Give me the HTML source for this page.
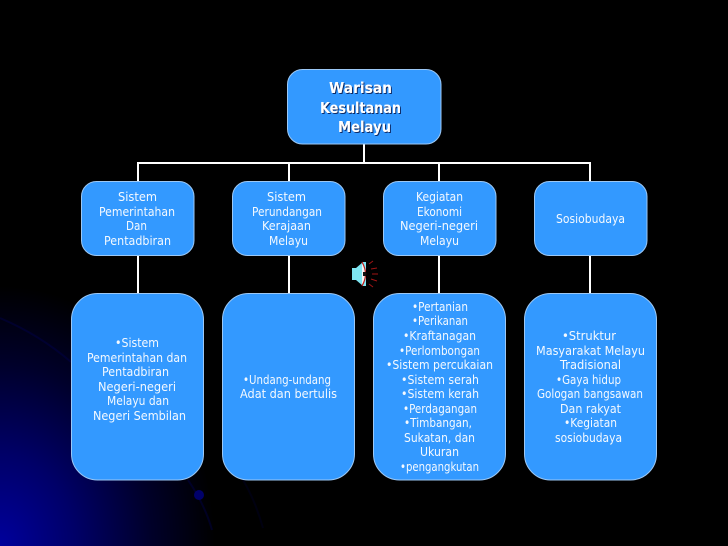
<!DOCTYPE html>
<html><head><meta charset="utf-8"><style>
html,body{margin:0;padding:0;background:#000;width:728px;height:546px;overflow:hidden}
svg{display:block}
text{font-family:"DejaVu Sans","Liberation Sans",sans-serif;font-size:12px;fill:#f4f9ff;text-anchor:start}
.t{font-weight:bold;font-size:15.5px;fill:#fff;filter:url(#sh)}
</style></head><body>
<svg width="728" height="546" viewBox="0 0 728 546" xmlns="http://www.w3.org/2000/svg">
<defs>
<radialGradient id="bg" gradientUnits="userSpaceOnUse" cx="0" cy="546" r="1" gradientTransform="translate(0 546) scale(215 260) translate(0 -546)">
<stop offset="0" stop-color="#00009c"/><stop offset=".35" stop-color="#000068"/><stop offset=".7" stop-color="#00002a"/><stop offset="1" stop-color="#000"/>
</radialGradient>
<filter id="sh" x="-10%" y="-20%" width="130%" height="150%"><feDropShadow dx="1" dy="1" stdDeviation=".3" flood-color="#0a2a66"/></filter>
</defs>
<rect width="728" height="546" fill="#000"/>
<rect width="728" height="546" fill="url(#bg)"/>
<g fill="none" stroke="#00005c" stroke-width="2" opacity=".35">
<path d="M0 318 Q40 335 71 362"/><path d="M188 480 Q205 505 212 530"/>
<path d="M243 480 Q255 500 263 528" stroke="#00002e"/>
</g>
<circle cx="199" cy="495" r="5" fill="#00006a"/>

<g fill="#fff">
<rect x="363" y="144" width="2" height="20"/>
<rect x="137" y="162" width="454" height="2"/>
<rect x="137" y="162" width="2" height="131"/>
<rect x="288" y="162" width="2" height="131"/>
<rect x="438" y="162" width="2" height="131"/>
<rect x="589" y="162" width="2" height="131"/>
</g>

<g fill="#3399ff" stroke="#9cc8f5" stroke-width="1">
<rect x="287.5" y="69.5" width="153.500" height="74.500" rx="15"/>
<rect x="81.500" y="181.500" width="112.500" height="74" rx="15"/>
<rect x="232.500" y="181.500" width="112.500" height="74" rx="15"/>
<rect x="383.500" y="181.500" width="112.500" height="74" rx="15"/>
<rect x="534.500" y="181.500" width="112.500" height="74" rx="15"/>
<rect x="71.500" y="293.500" width="132" height="186.500" rx="26"/>
<rect x="222.500" y="293.500" width="132" height="186.500" rx="26"/>
<rect x="373.500" y="293.500" width="132" height="186.500" rx="26"/>
<rect x="524.500" y="293.500" width="132" height="186.500" rx="26"/>
</g>

<g>
<text class="t" x="329" y="93" textLength="63" lengthAdjust="spacingAndGlyphs">Warisan</text>
<text class="t" x="320" y="113" textLength="81" lengthAdjust="spacingAndGlyphs">Kesultanan</text>
<text class="t" x="338" y="132" textLength="53" lengthAdjust="spacingAndGlyphs">Melayu</text>

<text x="118" y="201" textLength="39" lengthAdjust="spacingAndGlyphs">Sistem</text>
<text x="99" y="216" textLength="76" lengthAdjust="spacingAndGlyphs">Pemerintahan</text>
<text x="126" y="230" textLength="21" lengthAdjust="spacingAndGlyphs">Dan</text>
<text x="104" y="245" textLength="67" lengthAdjust="spacingAndGlyphs">Pentadbiran</text>

<text x="267" y="201" textLength="39" lengthAdjust="spacingAndGlyphs">Sistem</text>
<text x="252" y="216" textLength="70" lengthAdjust="spacingAndGlyphs">Perundangan</text>
<text x="262" y="230" textLength="49" lengthAdjust="spacingAndGlyphs">Kerajaan</text>
<text x="269" y="245" textLength="39" lengthAdjust="spacingAndGlyphs">Melayu</text>

<text x="416" y="201" textLength="47" lengthAdjust="spacingAndGlyphs">Kegiatan</text>
<text x="417" y="216" textLength="45" lengthAdjust="spacingAndGlyphs">Ekonomi</text>
<text x="400" y="230" textLength="78" lengthAdjust="spacingAndGlyphs">Negeri-negeri</text>
<text x="420" y="245" textLength="39" lengthAdjust="spacingAndGlyphs">Melayu</text>

<text x="556" y="223" textLength="69" lengthAdjust="spacingAndGlyphs">Sosiobudaya</text>

<text x="115" y="347" textLength="44" lengthAdjust="spacingAndGlyphs">•Sistem</text>
<text x="87" y="362" textLength="100" lengthAdjust="spacingAndGlyphs">Pemerintahan dan</text>
<text x="102" y="376" textLength="67" lengthAdjust="spacingAndGlyphs">Pentadbiran</text>
<text x="98" y="391" textLength="78" lengthAdjust="spacingAndGlyphs">Negeri-negeri</text>
<text x="107" y="405" textLength="62" lengthAdjust="spacingAndGlyphs">Melayu dan</text>
<text x="93" y="420" textLength="93" lengthAdjust="spacingAndGlyphs">Negeri Sembilan</text>

<text x="243" y="384" textLength="88" lengthAdjust="spacingAndGlyphs">•Undang-undang</text>
<text x="240" y="398" textLength="97" lengthAdjust="spacingAndGlyphs">Adat dan bertulis</text>

<text x="412" y="311" textLength="56" lengthAdjust="spacingAndGlyphs">•Pertanian</text>
<text x="412" y="325" textLength="56" lengthAdjust="spacingAndGlyphs">•Perikanan</text>
<text x="403" y="340" textLength="73" lengthAdjust="spacingAndGlyphs">•Kraftanagan</text>
<text x="399" y="355" textLength="81" lengthAdjust="spacingAndGlyphs">•Perlombongan</text>
<text x="386" y="369" textLength="107" lengthAdjust="spacingAndGlyphs">•Sistem percukaian</text>
<text x="401" y="384" textLength="78" lengthAdjust="spacingAndGlyphs">•Sistem serah</text>
<text x="401" y="398" textLength="78" lengthAdjust="spacingAndGlyphs">•Sistem kerah</text>
<text x="403" y="413" textLength="74" lengthAdjust="spacingAndGlyphs">•Perdagangan</text>
<text x="404" y="427" textLength="68" lengthAdjust="spacingAndGlyphs">•Timbangan,</text>
<text x="404" y="442" textLength="71" lengthAdjust="spacingAndGlyphs">Sukatan, dan</text>
<text x="420" y="456" textLength="39" lengthAdjust="spacingAndGlyphs">Ukuran</text>
<text x="400" y="471" textLength="79" lengthAdjust="spacingAndGlyphs">•pengangkutan</text>

<text x="562" y="340" textLength="54" lengthAdjust="spacingAndGlyphs">•Struktur</text>
<text x="536" y="355" textLength="109" lengthAdjust="spacingAndGlyphs">Masyarakat Melayu</text>
<text x="560" y="369" textLength="61" lengthAdjust="spacingAndGlyphs">Tradisional</text>
<text x="556" y="384" textLength="65" lengthAdjust="spacingAndGlyphs">•Gaya hidup</text>
<text x="537" y="398" textLength="106" lengthAdjust="spacingAndGlyphs">Gologan bangsawan</text>
<text x="560" y="413" textLength="61" lengthAdjust="spacingAndGlyphs">Dan rakyat</text>
<text x="564" y="427" textLength="53" lengthAdjust="spacingAndGlyphs">•Kegiatan</text>
<text x="555" y="442" textLength="67" lengthAdjust="spacingAndGlyphs">sosiobudaya</text>
</g>

<g>
<path d="M352 268 h4 l7 -6 h3 v24 h-3 l-7 -6 h-4z" fill="#7fe6f2"/>
<path d="M362 262 q7 12 0 24" fill="#f4f4f4" stroke="#c01a1a" stroke-width="1.200"/>
<path d="M363 274 h3" stroke="#111" stroke-width="4"/>
<g stroke="#a01515" stroke-width="1" fill="none">
<path d="M369 264 l4 -3 M371 269 l6 -1 M372 274 h6 M371 279 l6 2 M369 284 l4 3"/>
</g>
</g>
</svg>
</body></html>
